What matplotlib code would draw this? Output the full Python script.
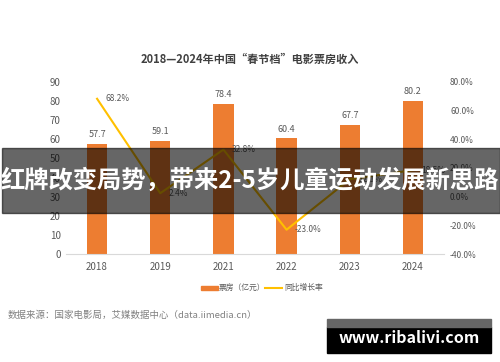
import matplotlib.pyplot as plt
import numpy as np

plt.rcParams['font.family'] = ['Noto Sans CJK SC', 'DejaVu Sans']

years = ['2018', '2019', '2021', '2022', '2023', '2024']
box_office = [57.7, 59.1, 78.4, 60.4, 67.7, 80.2]
growth = [68.2, 2.4, 32.8, -23.0, 12.1, 18.5]

bar_color = '#ED7D31'
line_color = '#FFC000'
tick_color = '#595959'

fig = plt.figure(figsize=(5, 3.62), dpi=100)
ax = fig.add_axes([0.131, 0.298, 0.758, 0.476])
x = np.arange(len(years))

ax.bar(x, box_office, width=0.32, color=bar_color, zorder=2)
for xi, v in zip(x, box_office):
    ax.text(xi, v + 2.5, f'{v}', ha='center', va='bottom', fontsize=6.5, color=tick_color)

ax.set_xlim(-0.5, len(years) - 0.5)
ax.set_ylim(0, 90)
ax.set_yticks(range(0, 91, 10))
ax.set_xticks(x)
ax.set_xticklabels(years)
ax.tick_params(axis='both', length=0, labelsize=7, colors=tick_color)
ax.tick_params(axis='x', pad=6)
for s in ['top', 'right', 'left']:
    ax.spines[s].set_visible(False)
ax.spines['bottom'].set_color('#D9D9D9')

ax2 = ax.twinx()
ax2.plot(x, growth, color=line_color, lw=1.5, zorder=3)
for xi, g in zip(x, growth):
    ax2.annotate(f'{g:.1f}%', (xi, g), xytext=(6, 0), textcoords='offset points',
                 ha='left', va='center', fontsize=6, color=tick_color)
ax2.set_ylim(-40, 80)
ax2.set_yticks(range(-40, 81, 20))
ax2.set_yticklabels([f'{t:.1f}%' for t in range(-40, 81, 20)])
ax2.tick_params(axis='y', length=0, labelsize=6, colors=tick_color, pad=4)
for s in ax2.spines.values():
    s.set_visible(False)

fig.text(0.5, 0.835, '2018—2024年中国“春节档”电影票房收入', ha='center', va='center',
         fontsize=8, fontweight='bold', color='#404040')

# legend
fig.patches.append(plt.Rectangle((0.401, 0.198), 0.034, 0.013, transform=fig.transFigure,
                                 color=bar_color))
fig.text(0.438, 0.204, '票房（亿元）', ha='left', va='center', fontsize=5.6, color=tick_color)
fig.lines.append(plt.Line2D([0.53, 0.563], [0.204, 0.204], transform=fig.transFigure,
                            color=line_color, lw=1.5))
fig.text(0.568, 0.204, '同比增长率', ha='left', va='center', fontsize=5.6, color=tick_color)

fig.text(0.015, 0.13, '数据来源：国家电影局，艾媒数据中心（data.iimedia.cn）', ha='left',
         va='center', fontsize=6.8, color='#808080')

# overlay banner
fig.patches.append(plt.Rectangle((0.004, 0.412), 0.996, 0.18, transform=fig.transFigure,
                                 color='black', alpha=0.6, zorder=10))
fig.text(0.5, 0.502, '红牌改变局势，带来2-5岁儿童运动发展新思路', ha='center', va='center',
         fontsize=17.5, fontweight='bold', color='white', zorder=11)

# watermark
fig.patches.append(plt.Rectangle((0.654, 0.025), 0.328, 0.072, transform=fig.transFigure,
                                 color='black', zorder=10))
fig.patches.append(plt.Rectangle((0.654, 0.097), 0.328, 0.022, transform=fig.transFigure,
                                 color='#666666', zorder=10))
fig.text(0.818, 0.066, 'www.ribalivi.com', ha='center', va='center', fontsize=11.5,
         fontweight='bold', color='white', zorder=11)

plt.savefig('out.png', dpi=100)
